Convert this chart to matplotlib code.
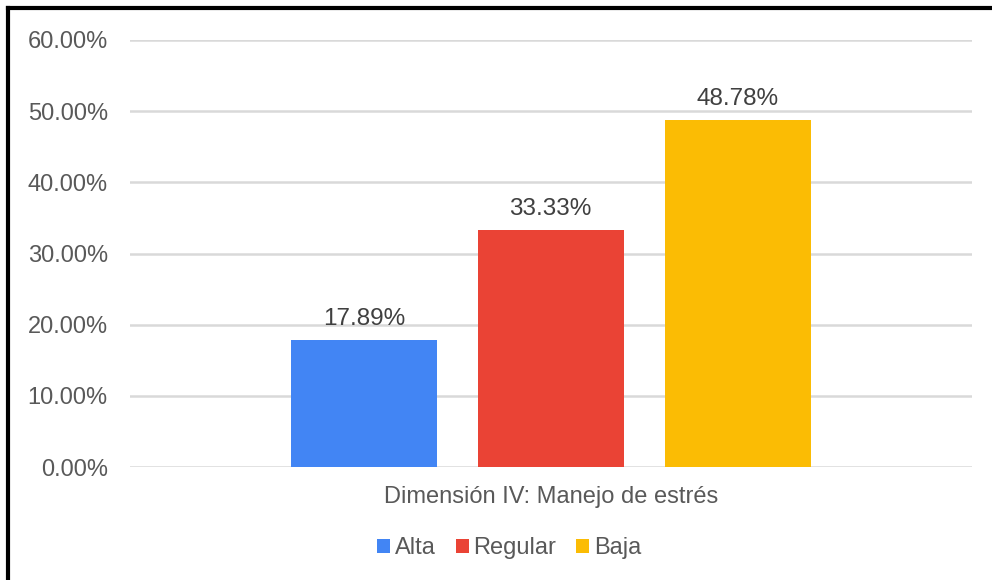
import matplotlib.pyplot as plt
from matplotlib.lines import Line2D
from matplotlib.ticker import PercentFormatter

plt.rcParams['font.family'] = ['Liberation Sans', 'DejaVu Sans']

categoria = 'Dimensión IV: Manejo de estrés'
niveles = ['Alta', 'Regular', 'Baja']
porcentajes = [17.89, 33.33, 48.78]
colores = ['#4285F4', '#EA4335', '#FBBC04']
gris = '#595959'

fig = plt.figure(figsize=(9.92, 5.80), dpi=100)
ax = fig.add_axes([130 / 992, 1 - 467 / 580, 842 / 992, 427 / 580])

x = range(len(niveles))
barras = ax.bar(x, porcentajes, width=0.78, color=colores, label=niveles, zorder=3)
for b, v in zip(barras, porcentajes):
    ax.annotate(f'{v:.2f}%', (b.get_x() + b.get_width() / 2, v), xytext=(0, 7),
                textcoords='offset points', ha='center', va='bottom',
                fontsize=17.5, color='#404040')

ax.set_ylim(0, 60)
ax.set_yticks(range(0, 61, 10))
ax.yaxis.set_major_formatter(PercentFormatter(decimals=2))
ax.set_xlim(-1.251, 3.254)
ax.set_xticks([1])
ax.set_xticklabels([categoria])
ax.grid(axis='y', color='#D9D9D9', linewidth=1.8, zorder=0)
for s in ax.spines.values():
    s.set_visible(False)
ax.tick_params(axis='both', length=0, labelsize=17, colors=gris)
ax.tick_params(axis='y', pad=16)
ax.tick_params(axis='x', pad=14)

fig.legend(handles=barras, labels=niveles, loc='center', bbox_to_anchor=(509 / 992, 1 - 548 / 580),
           ncol=3, frameon=False, fontsize=17, labelcolor=gris, handlelength=0.55,
           handleheight=0.55, handletextpad=0.2, columnspacing=0.85)

# borde superior e izquierdo
fig.add_artist(Line2D([8 / 992, 1], [1 - 8 / 580] * 2, color='black', linewidth=3))
fig.add_artist(Line2D([8 / 992] * 2, [0, 1 - 8 / 580], color='black', linewidth=3))

fig.savefig('out.png', dpi=100)
